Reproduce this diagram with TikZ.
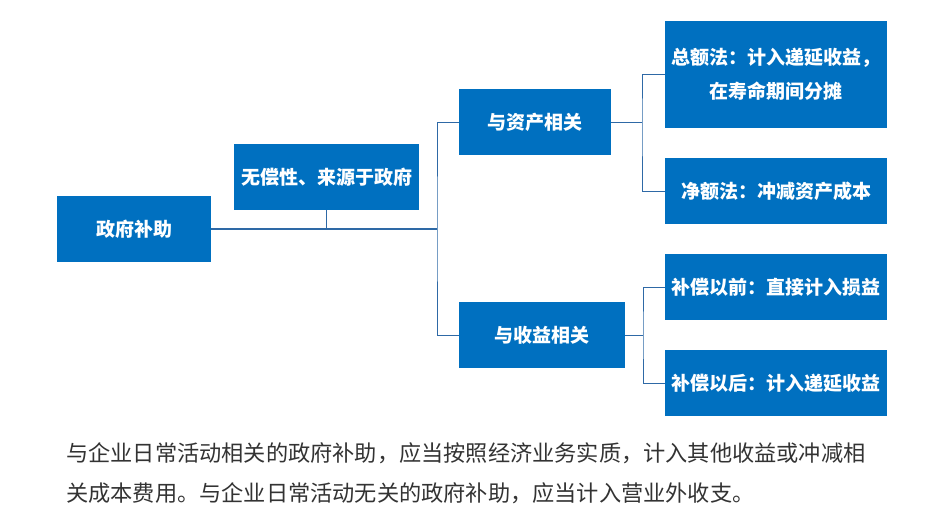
\documentclass[tikz,border=0pt]{standalone}
\usepackage{fontspec}
\setmainfont{Noto Sans CJK SC}
\usepackage{tikz}
\usetikzlibrary{positioning,calc}
\definecolor{boxblue}{HTML}{0070C0}
\definecolor{lineblue}{HTML}{2E69A6}
\definecolor{notegray}{HTML}{333333}
\tikzset{
  govbox/.style={fill=boxblue,draw=none,text=white,align=center,
                 font=\fontsize{19}{34}\selectfont\bfseries,inner sep=2pt,
                 minimum width=222pt,minimum height=66pt},
  govline/.style={draw=lineblue,line width=1.4pt},
  notetext/.style={anchor=north west,align=left,text=notegray,inner sep=0pt,
                   font=\fontsize{22.2}{40}\selectfont},
}
\begin{document}
\begin{tikzpicture}[x=1pt,y=-1pt]
  \fill[white] (0,0) rectangle (948,525);
  % boxes, placed at their centres
  \node[govbox,minimum width=154pt] (gov) at (134,229) {政府补助};
  \node[govbox,minimum width=185pt] (free) at (326.5,177) {无偿性、来源于政府};
  \node[govbox,minimum width=152pt] (asset) at (535,122) {与资产相关};
  \node[govbox,minimum width=166pt] (income) at (542,335) {与收益相关};
  \node[govbox,minimum height=107pt] (gross) at (776,74.5) {总额法：计入递延收益，\\在寿命期间分摊};
  \node[govbox] (net) at (776,191) {净额法：冲减资产成本};
  \node[govbox] (before) at (776,287) {补偿以前：直接计入损益};
  \node[govbox] (after) at (776,383) {补偿以后：计入递延收益};
  % connectors
  \coordinate (trunk) at (437,229);
  \coordinate (ja) at (642,122);
  \coordinate (ji) at (643,335);
  \draw[govline] (gov.east) -- (trunk);
  \draw[govline,line width=1pt] (free.south) -- (free.south |- trunk);
  \draw[govline,line width=1pt] (asset.west) -| (trunk) |- (income.west);
  \draw[govline,line width=1pt] (asset.east) -- (ja);
  \draw[govline,line width=1pt] (gross.west) -| (ja) |- (net.west);
  \draw[govline,line width=1pt] (income.east) -- (ji);
  \draw[govline,line width=1pt] (before.west) -| (ji) |- (after.west);
  % note below
  \node[notetext] (note) at (66,442)
    {与企业日常活动相关的政府补助，应当按照经济业务实质，计入其他收益或冲减相\\
     关成本费用。与企业日常活动无关的政府补助，应当计入营业外收支。};
\end{tikzpicture}
\end{document}
